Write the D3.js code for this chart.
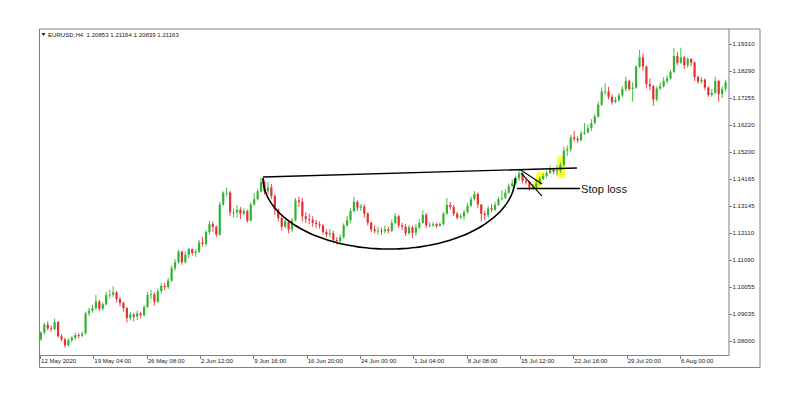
<!DOCTYPE html>
<html><head><meta charset="utf-8">
<script src="https://cdn.jsdelivr.net/npm/d3@7"></script>
<style>
body{margin:0;background:#fff}
svg{display:block}
text{font-family:"Liberation Sans",Arial,sans-serif}
</style>
</head><body>
<svg id="c" width="800" height="398"></svg>
<script>
// ---------- DATA (EURUSD, 8-hour candles) ----------
const firstOpen = 1.0806;
const closes = [
1.0832,1.0862,1.0848, 1.0846,1.0872,1.0818, 1.0806,1.0784,1.0803, 1.0812,1.0822,1.0820,
1.0828,1.0905,1.0915, 1.0925,1.0950,1.0923, 1.0940,1.0975,1.0977, 1.0985,1.0960,1.0945,
1.0925,1.0888,1.0901, 1.0893,1.0905,1.0898, 1.0930,1.0975,1.0978, 1.0950,1.0990,1.1010,
1.1005,1.1030,1.1077, 1.1100,1.1140,1.1100, 1.1128,1.1150,1.1135, 1.1140,1.1175,1.1170,
1.1215,1.1245,1.1235, 1.1205,1.1320,1.1365, 1.1365,1.1290,1.1290, 1.1300,1.1285,1.1295,
1.1258,1.1320,1.1340, 1.1370,1.1405,1.1370, 1.1385,1.1352,1.1300, 1.1268,1.1235,1.1255,
1.1225,1.1260,1.1335, 1.1330,1.1275,1.1265, 1.1262,1.1250,1.1245, 1.1240,1.1215,1.1205,
1.1210,1.1185,1.1180, 1.1195,1.1240,1.1260, 1.1295,1.1330,1.1308, 1.1312,1.1285,1.1250,
1.1225,1.1218,1.1220, 1.1218,1.1225,1.1220, 1.1250,1.1275,1.1240, 1.1235,1.1210,1.1233,
1.1212,1.1232,1.1250, 1.1280,1.1240,1.1240, 1.1245,1.1238,1.1245, 1.1285,1.1318,1.1310,
1.1285,1.1270,1.1275, 1.1290,1.1315,1.1340, 1.1360,1.1320,1.1285, 1.1280,1.1305,1.1300,
1.1318,1.1340,1.1345, 1.1365,1.1390,1.1400, 1.1420,1.1438,1.1410, 1.1405,1.1385,1.1385,
1.1400,1.1418,1.1428, 1.1440,1.1455,1.1445, 1.1450,1.1470,1.1525, 1.1530,1.1575,1.1570,
1.1565,1.1590,1.1595, 1.1610,1.1630,1.1655, 1.1700,1.1750,1.1750, 1.1730,1.1710,1.1718,
1.1735,1.1760,1.1790, 1.1760,1.1765,1.1845, 1.1880,1.1845,1.1778, 1.1770,1.1720,1.1762,
1.1770,1.1790,1.1800, 1.1825,1.1885,1.1860, 1.1880,1.1850,1.1875, 1.1860,1.1805,1.1788,
1.1795,1.1765,1.1737, 1.1745,1.1790,1.1740, 1.1760,1.1785
];
const highs = [
1.0838,1.0870,1.0875, 1.0858,1.0886,1.0876, 1.0826,1.0812,1.0810, 1.0820,1.0832,1.0830,
1.0836,1.0912,1.0926, 1.0938,1.0976,1.0956, 1.0948,1.0987,1.0995, 1.1008,1.0992,1.0968,
1.0950,1.0930,1.0912, 1.0906,1.0915,1.0912, 1.0936,1.0988,1.0995, 1.0985,1.1000,1.1020,
1.1022,1.1040,1.1088, 1.1112,1.1147,1.1145, 1.1140,1.1155,1.1152, 1.1150,1.1185,1.1197,
1.1222,1.1258,1.1255, 1.1240,1.1330,1.1370, 1.1384,1.1372,1.1305, 1.1318,1.1310,1.1305,
1.1300,1.1328,1.1362, 1.1380,1.1422,1.1412, 1.1405,1.1398,1.1360, 1.1305,1.1275,1.1270,
1.1258,1.1270,1.1345, 1.1350,1.1345,1.1290, 1.1285,1.1275,1.1262, 1.1255,1.1245,1.1225,
1.1225,1.1220,1.1195, 1.1205,1.1248,1.1275, 1.1305,1.1349,1.1335, 1.1322,1.1320,1.1290,
1.1255,1.1240,1.1235, 1.1232,1.1240,1.1235, 1.1262,1.1288,1.1280, 1.1250,1.1245,1.1242,
1.1240,1.1245,1.1265, 1.1298,1.1288,1.1252, 1.1254,1.1250,1.1252, 1.1292,1.1345,1.1330,
1.1318,1.1292,1.1285, 1.1300,1.1325,1.1350, 1.1371,1.1365,1.1320, 1.1295,1.1315,1.1322,
1.1330,1.1350,1.1375, 1.1378,1.1400,1.1415, 1.1430,1.1452,1.1440, 1.1420,1.1410,1.1398,
1.1410,1.1425,1.1438, 1.1450,1.1468,1.1460, 1.1470,1.1480,1.1540, 1.1545,1.1585,1.1601,
1.1580,1.1600,1.1630, 1.1625,1.1645,1.1665, 1.1712,1.1765,1.1781, 1.1768,1.1740,1.1730,
1.1745,1.1770,1.1806, 1.1795,1.1785,1.1850, 1.1909,1.1895,1.1850, 1.1800,1.1775,1.1770,
1.1785,1.1805,1.1812, 1.1832,1.1916,1.1900, 1.1917,1.1885,1.1880, 1.1875,1.1865,1.1810,
1.1805,1.1800,1.1770, 1.1760,1.1806,1.1795, 1.1770,1.1795
];
const lows = [
1.0800,1.0825,1.0840, 1.0836,1.0840,1.0812, 1.0798,1.0775,1.0779, 1.0795,1.0804,1.0810,
1.0815,1.0825,1.0895, 1.0908,1.0918,1.0915, 1.0915,1.0936,1.0962, 1.0968,1.0948,1.0932,
1.0912,1.0870,1.0878, 1.0875,1.0880,1.0887, 1.0893,1.0925,1.0960, 1.0935,1.0945,1.0980,
1.0992,1.0998,1.1025, 1.1068,1.1095,1.1090, 1.1095,1.1115,1.1125, 1.1120,1.1135,1.1160,
1.1160,1.1205,1.1215, 1.1196,1.1200,1.1315, 1.1350,1.1275,1.1270, 1.1270,1.1265,1.1278,
1.1250,1.1255,1.1315, 1.1335,1.1365,1.1358, 1.1360,1.1340,1.1280, 1.1255,1.1220,1.1230,
1.1210,1.1215,1.1255, 1.1310,1.1255,1.1250, 1.1245,1.1235,1.1230, 1.1228,1.1205,1.1195,
1.1195,1.1172,1.1168, 1.1170,1.1190,1.1235, 1.1250,1.1290,1.1295, 1.1295,1.1270,1.1240,
1.1215,1.1210,1.1205, 1.1205,1.1210,1.1210, 1.1215,1.1245,1.1230, 1.1222,1.1200,1.1205,
1.1192,1.1200,1.1225, 1.1248,1.1230,1.1232, 1.1234,1.1230,1.1236, 1.1240,1.1280,1.1300,
1.1275,1.1262,1.1265, 1.1262,1.1285,1.1310, 1.1335,1.1305,1.1255, 1.1260,1.1270,1.1290,
1.1295,1.1315,1.1335, 1.1340,1.1360,1.1385, 1.1395,1.1410,1.1400, 1.1395,1.1372,1.1375,
1.1380,1.1395,1.1412, 1.1420,1.1435,1.1435, 1.1430,1.1440,1.1465, 1.1505,1.1520,1.1560,
1.1555,1.1560,1.1585, 1.1590,1.1600,1.1625, 1.1650,1.1695,1.1738, 1.1720,1.1700,1.1705,
1.1710,1.1728,1.1750, 1.1752,1.1711,1.1760, 1.1840,1.1830,1.1762, 1.1755,1.1696,1.1712,
1.1755,1.1765,1.1780, 1.1795,1.1820,1.1850, 1.1855,1.1835,1.1840, 1.1845,1.1790,1.1780,
1.1780,1.1755,1.1730, 1.1730,1.1740,1.1711, 1.1725,1.1750
];
const priceTicks = [1.19310,1.18290,1.17255,1.16220,1.15200,1.14165,1.13145,1.12110,1.11090,1.10055,1.09035,1.08000];
const timeTickBars = [0,31,62,93,124,155,186,217,248,279,310,341,372];
const timeTickLabels = ["12 May 2020","19 May 04:00","26 May 08:00","2 Jun 12:00","9 Jun 16:00","16 Jun 20:00","24 Jun 00:00","1 Jul 04:00","8 Jul 08:00","15 Jul 12:00","22 Jul 16:00","29 Jul 20:00","6 Aug 00:00"];
const headerText = "EURUSD,H4  1.20853 1.21164 1.20839 1.21163";
// annotations in (H4 bar index, price)
const resistance = [[129.6,1.14245],[312.1,1.14588]];
const cup = {left:129.6, right:276.2, rim:1.1421, bottom:1.1150};
const stopLoss = {from:277.3, to:313.9, price:1.13807, label:"Stop loss"};
const flagLines = [[[279.0,1.1453],[291.8,1.1398]], [[279.6,1.1440],[291.8,1.1352]]];
const highlights = [
  [[289.2,1.1446],[293.4,1.1442],[291.0,1.1384],[286.2,1.1388]],
  [[300.8,1.1503],[305.2,1.1503],[305.2,1.1423],[300.8,1.1423]]
];

// ---------- CHART ----------
const svg = d3.select("#c");
const L = 39.5, R = 729, T = 29, B = 355.5, OUTR = 760, OUTB = 367.5;
const x = d3.scaleLinear().domain([0, 400.5]).range([40, R]);
const y = d3.scaleLinear().domain([1.08000, 1.19310]).range([341, 44]);
const frame = "#808080";
const bull = "#32b432", bear = "#e62e33";

// header
svg.append("path").attr("d","M41.5,33 L45.5,33 L43.5,36 Z").attr("fill","#222");
svg.append("text").attr("x",48).attr("y",36.8).attr("font-size",6.1).attr("fill","#222").attr("xml:space","preserve").text(headerText);

// highlights (under candles)
const poly = d3.line().x(d=>x(d[0])).y(d=>y(d[1]));
svg.append("g").selectAll("path").data(highlights).join("path")
  .attr("d", d=>poly(d)+"Z").attr("fill","#ffff14").attr("opacity",0.9);

// candles
const candles = closes.map((c,i)=>{
  const o = i===0 ? firstOpen : closes[i-1];
  return {i, o, c, h: Math.max(highs[i], o, c), l: Math.min(lows[i], o, c)};
});
const g = svg.append("g");
g.selectAll("line").data(candles).join("line")
  .attr("x1", d=>x(2*d.i+0.5)).attr("x2", d=>x(2*d.i+0.5))
  .attr("y1", d=>y(d.h)).attr("y2", d=>y(d.l))
  .attr("stroke", d=>d.c>=d.o?bull:bear).attr("stroke-width",0.9);
g.selectAll("rect").data(candles).join("rect")
  .attr("x", d=>x(2*d.i+0.5)-1.1).attr("width",2.2)
  .attr("y", d=>y(Math.max(d.o,d.c))).attr("height", d=>Math.max(0.8, Math.abs(y(d.o)-y(d.c))))
  .attr("fill", d=>d.c>=d.o?bull:bear);

// annotations
svg.append("path").attr("d", poly(resistance)).attr("stroke","#000").attr("stroke-width",1.4).attr("fill","none");
const cx = (cup.left+cup.right)/2, rx = (cup.right-cup.left)/2;
const arcPts = d3.range(0, 181, 3).map(a=>{
  const t = a*Math.PI/180;
  return [cx - rx*Math.cos(t), cup.rim - (cup.rim-cup.bottom)*Math.sin(t)];
});
svg.append("path").attr("d", d3.line().x(d=>x(d[0])).y(d=>y(d[1])).curve(d3.curveBasis)(arcPts))
  .attr("stroke","#000").attr("stroke-width",1.6).attr("fill","none");
svg.append("g").selectAll("path").data(flagLines).join("path")
  .attr("d", d=>poly(d)).attr("stroke","#000").attr("stroke-width",1.1).attr("fill","none");
svg.append("line").attr("x1",x(stopLoss.from)).attr("x2",x(stopLoss.to))
  .attr("y1",y(stopLoss.price)).attr("y2",y(stopLoss.price)).attr("stroke","#000").attr("stroke-width",1.4);
svg.append("text").attr("x",x(stopLoss.to)+1).attr("y",y(stopLoss.price)+4).attr("font-size",11.2)
  .attr("fill","#111").text(stopLoss.label);

// frame
const fl = (x1,y1,x2,y2)=>svg.append("line").attr("x1",x1).attr("y1",y1).attr("x2",x2).attr("y2",y2).attr("stroke",frame).attr("stroke-width",1);
fl(L,T,OUTR,T); fl(L,T,L,OUTB); fl(L,B,R,B); fl(R,T,R,B); fl(OUTR,T,OUTR,OUTB); fl(L,OUTB,OUTR,OUTB);

// price axis
const py = svg.append("g");
py.selectAll("line").data(priceTicks).join("line")
  .attr("x1",R).attr("x2",R+3).attr("y1",d=>Math.round(y(d))+0.5).attr("y2",d=>Math.round(y(d))+0.5).attr("stroke",frame);
py.selectAll("text").data(priceTicks).join("text")
  .attr("x",R+3.5).attr("y",d=>y(d)+2.1).attr("font-size",6.1).attr("fill","#222").text(d=>d.toFixed(5));

// time axis
const tx = svg.append("g");
tx.selectAll("line").data(timeTickBars).join("line")
  .attr("x1",d=>Math.round(x(d))+0.5).attr("x2",d=>Math.round(x(d))+0.5).attr("y1",B).attr("y2",B+3.5).attr("stroke",frame);
tx.selectAll("text").data(timeTickBars).join("text")
  .attr("x",d=>x(d)+1).attr("y",d=>362.8).attr("font-size",6.1).attr("fill","#222")
  .text((d,i)=>timeTickLabels[i]);
</script>
</body></html>
